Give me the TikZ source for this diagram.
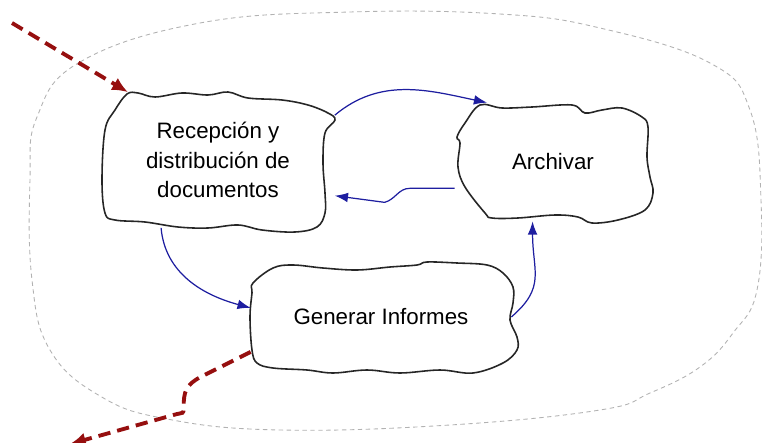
\documentclass[tikz,border=0pt]{standalone}
\usepackage{fontspec}
\setmainfont{Liberation Sans}
\usetikzlibrary{arrows.meta}
\definecolor{flowblue}{RGB}{30,30,160}
\definecolor{flowred}{RGB}{150,15,15}

\begin{document}
\begin{tikzpicture}[x=0.02cm,y=-0.02cm,
    outline/.style={draw=black!85,line width=0.9pt,fill=white},
    proc/.style={inner sep=0pt,align=center,font=\fontsize{12.7}{17}\selectfont},
    flow/.style={draw=flowblue,line width=0.7pt,-{Latex[length=7.5pt,width=5.5pt]}},
    extern/.style={draw=flowred,line width=2.2pt,dash pattern=on 7pt off 4pt,
      -{Latex[length=9pt,width=8pt]}},
    border/.style={draw=gray!60,line width=0.5pt,dash pattern=on 2.5pt off 2pt}]
  \useasboundingbox (0,0) rectangle (762,443);
  % system boundary
  \draw[border] plot[smooth cycle,tension=0.7] coordinates {(37,117) (80,62) (200,23) (350,12) (500,14) (600,28) (710,63) (750,110) (761,200) (757,290) (733,333) (700,367) (650,393) (600,410) (450,425) (280,430) (167,419) (100,396) (50,350) (32,280) (30,180)};
  % hand drawn boxes
  \draw[outline] plot[smooth cycle,tension=0.6] coordinates {(127,94) (138,93) (155,97) (182,93) (208,95) (228,92) (248,98) (282,100) (308,105) (328,113) (335,120) (325,133) (323,163) (325,193) (325,213) (317,227) (295,232) (262,230) (238,225) (208,228) (178,227) (145,222) (115,220) (105,213) (102,180) (105,130) (115,110)};
  \draw[outline] plot[smooth cycle,tension=0.6] coordinates {(480,105) (502,108) (532,107) (572,105) (585,113) (602,110) (622,108) (642,117) (648,127) (647,157) (650,177) (653,193) (645,210) (618,220) (592,223) (578,217) (555,215) (518,218) (492,218) (485,213) (465,187) (458,167) (460,143) (457,137) (465,123)};
  \draw[outline] plot[smooth cycle,tension=0.6] coordinates {(253,283) (273,268) (293,265) (323,268) (357,270) (390,267) (417,265) (427,262) (457,263) (487,265) (503,273) (513,287) (513,303) (510,320) (517,337) (517,350) (503,363) (473,373) (440,370) (400,373) (367,370) (333,373) (307,370) (273,368) (257,363) (252,350) (250,317) (252,293)};
  % processes
  \node[proc,minimum width=4.66cm,minimum height=2.7cm] (recep) at (218,160) {Recepción y\\distribución de\\documentos};
  \node[proc,minimum width=3.92cm,minimum height=2.36cm] (archivar) at (553,162) {Archivar};
  \node[proc,minimum width=5.2cm,minimum height=2.22cm] (informes) at (381,317) {Generar Informes};
  \coordinate (entrada) at (12,23);
  \coordinate (salida) at (70,444);
  % flows
  \draw[extern] (entrada) -- (recep.143);
  \draw[flow] (recep.21) to[out=40,in=168] (archivar.138);
  \draw[flow] (archivar.195) -- ++(-45,0) to[out=180,in=15] ++(-25,14) -- (recep.-17);
  \draw[flow] (recep.230) to[out=-85,in=165] (informes.176);
  \draw[flow] (informes.east) .. controls +(35,-30) and +(0,50) .. (archivar.251);
  \draw[extern] (informes.195) -- ++(-50,25) .. controls +(-15,8) and +(0,-15) .. ++(-17,30) .. controls +(0,8) and +(10,-3) .. ++(-10,8) -- (salida);
\end{tikzpicture}
\end{document}
